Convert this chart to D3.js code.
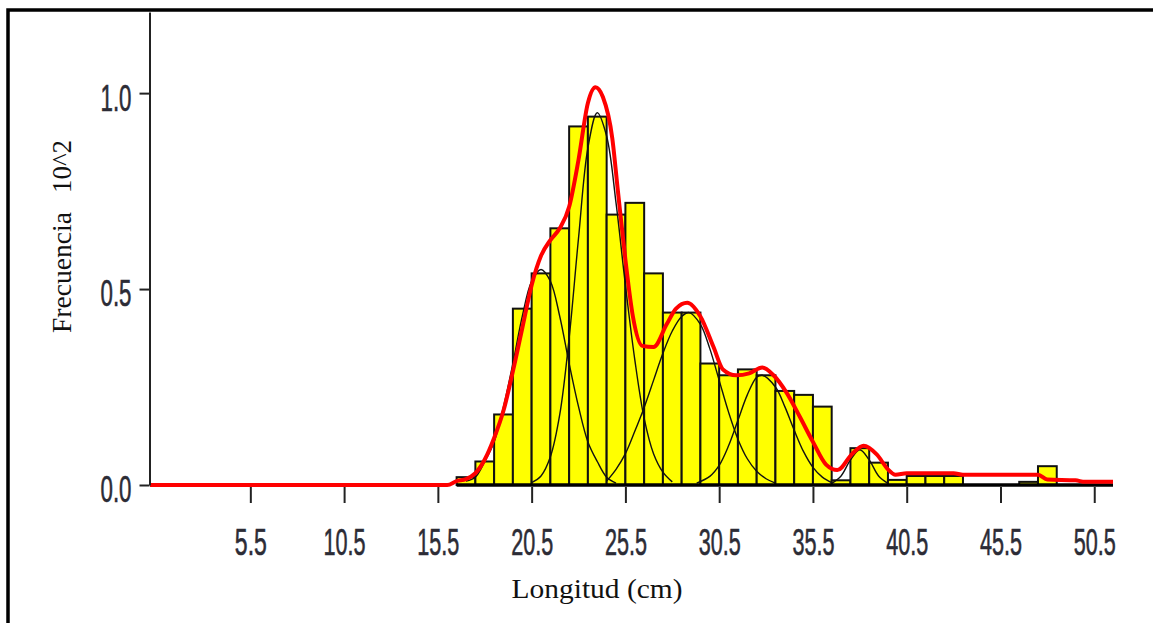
<!DOCTYPE html>
<html>
<head>
<meta charset="utf-8">
<script src="https://cdn.jsdelivr.net/npm/d3@7/dist/d3.min.js"></script>
<style>
  body { margin: 0; background: #fff; }
  svg { display: block; }
</style>
</head>
<body>
<div id="chart"></div>
<script>
// bin centres (cm) and observed frequency (x 10^2)
var binMids = [17, 18, 19, 20, 21, 22, 23, 24, 25, 26, 27, 28, 29, 30, 31, 32, 33, 34, 35, 36,
               37, 38, 39, 40, 41, 42, 43, 44, 45, 46, 47, 48];
var binFreq = [0.02, 0.06, 0.18, 0.45, 0.54, 0.655, 0.915, 0.94, 0.69, 0.72, 0.54, 0.44, 0.44, 0.31, 0.28, 0.295,
               0.28, 0.24, 0.23, 0.20, 0.012, 0.094, 0.057, 0.013, 0.023, 0.023, 0.023, 0, 0, 0, 0.008, 0.048];

// fitted total (red)
var fitTotal = [[0.15, 0], [16, 0], [16.5, 0.01], [17, 0.015], [17.5, 0.03], [18, 0.065], [18.5, 0.12], [19, 0.19],
  [19.5, 0.29], [20, 0.40], [20.5, 0.51], [21, 0.585], [21.5, 0.625], [22, 0.655], [22.5, 0.71], [23, 0.83],
  [23.5, 0.975], [23.9, 1.015], [24.3, 0.99], [24.8, 0.885], [25.1, 0.75], [25.5, 0.575], [25.9, 0.43],
  [26.4, 0.355], [27, 0.352], [27.7, 0.41], [28.2, 0.45], [28.8, 0.465], [29.5, 0.43], [30.2, 0.352],
  [30.7, 0.295], [31.4, 0.28], [32.1, 0.285], [32.8, 0.30], [33.4, 0.28], [34.1, 0.235], [34.8, 0.174],
  [35.5, 0.11], [36.2, 0.052], [36.8, 0.038], [37.6, 0.08], [38.2, 0.10], [38.9, 0.078], [39.5, 0.04],
  [39.9, 0.026], [40.5, 0.03], [43, 0.03], [43.5, 0.026], [47.5, 0.026], [48, 0.014], [49.5, 0.012],
  [50, 0.008], [51.5, 0.008]];

// age-group components (thin black)
var compA = [[17, 0.01], [17.5, 0.02], [18, 0.06], [18.5, 0.11], [19, 0.2], [19.5, 0.31], [20, 0.43], [20.5, 0.52],
  [21, 0.55], [21.5, 0.52], [22, 0.43], [22.5, 0.31], [23, 0.2], [23.5, 0.11], [24, 0.06], [24.5, 0.02], [25, 0.005]];
var compB = [[20.5, 0.006], [21, 0.023], [21.5, 0.072], [22, 0.18], [22.5, 0.375], [23, 0.63], [23.5, 0.86], [24, 0.95],
  [24.5, 0.89], [25, 0.72], [25.5, 0.51], [26, 0.32], [26.5, 0.17], [27, 0.08], [27.5, 0.033], [28, 0.008]];
var compC = [[24.5, 0.01], [25, 0.04], [25.5, 0.08], [26, 0.137], [26.5, 0.198], [27, 0.267], [27.5, 0.336], [28, 0.393],
  [28.5, 0.43], [28.9, 0.44], [29.5, 0.41], [30, 0.348], [30.5, 0.267], [31, 0.186], [31.5, 0.117], [32, 0.067],
  [32.5, 0.035], [33, 0.016], [33.5, 0.005]];
var compD = [[29.3, 0.005], [30, 0.022], [30.5, 0.05], [31, 0.1], [31.5, 0.165], [32, 0.23], [32.5, 0.275], [32.8, 0.28],
  [33.5, 0.25], [34, 0.2], [34.5, 0.14], [35, 0.085], [35.5, 0.045], [36, 0.02], [36.5, 0.006]];
var compE = [[36.5, 0.004], [37, 0.023], [37.5, 0.064], [38, 0.09], [38.5, 0.064], [39, 0.023], [39.5, 0.004]];

var xTicks = [5.5, 10.5, 15.5, 20.5, 25.5, 30.5, 35.5, 40.5, 45.5, 50.5];
var yTicks = [0, 0.5, 1.0];

var W = 1153, H = 623;
var svg = d3.select('#chart').append('svg').attr('width', W).attr('height', H);

var x = d3.scaleLinear().domain([0.15, 51.5]).range([150, 1113]);
var y = d3.scaleLinear().domain([0, 1.207]).range([485, 12]);

// frame
svg.append('rect').attr('x', 8).attr('y', 10).attr('width', 1200).attr('height', 700)
  .attr('fill', 'none').attr('stroke', '#000').attr('stroke-width', 3.5);

// bars
svg.append('g').selectAll('rect').data(binMids.map(function (m, i) { return { m: m, v: binFreq[i] }; })
  .filter(function (d) { return d.v > 0; }))
  .enter().append('rect')
  .attr('x', function (d) { return x(d.m - 0.5); })
  .attr('width', function (d) { return x(d.m + 0.5) - x(d.m - 0.5); })
  .attr('y', function (d) { return y(d.v); })
  .attr('height', function (d) { return y(0) - y(d.v); })
  .attr('fill', '#ffff00').attr('stroke', '#111').attr('stroke-width', 2);

// components
var compLine = d3.line().x(function (d) { return x(d[0]); }).y(function (d) { return y(d[1]); })
  .curve(d3.curveCatmullRom);
[compA, compB, compC, compD, compE].forEach(function (c) {
  svg.append('path').attr('d', compLine(c)).attr('fill', 'none')
    .attr('stroke', '#111').attr('stroke-width', 1.4);
});

// black baseline under the bins
svg.append('line').attr('x1', x(16.5)).attr('x2', x(51.5)).attr('y1', y(0)).attr('y2', y(0))
  .attr('stroke', '#000').attr('stroke-width', 3.5);

// fitted total
var fitLine = d3.line().x(function (d) { return x(d[0]); }).y(function (d) { return y(d[1]); })
  .curve(d3.curveMonotoneX);
svg.append('path').attr('d', fitLine(fitTotal)).attr('fill', 'none')
  .attr('stroke', '#ff0000').attr('stroke-width', 4).attr('stroke-linejoin', 'round');

// x axis (ticks only)
var axX = svg.append('g').attr('transform', 'translate(0,487)')
  .call(d3.axisBottom(x).tickValues(xTicks).tickSize(16).tickPadding(26).tickFormat(d3.format('.1f')));
axX.select('.domain').remove();
axX.selectAll('line').attr('stroke', '#222').attr('stroke-width', 2);
axX.selectAll('text').attr('font-family', 'Liberation Sans, Arial, sans-serif').attr('font-size', 36)
  .attr('fill', '#2c2c36').attr('stroke', '#2c2c36').attr('stroke-width', 0.6)
  .attr('textLength', function (d) { return d >= 10 ? 42 : 32; }).attr('lengthAdjust', 'spacingAndGlyphs');

// y axis
var axY = svg.append('g').attr('transform', 'translate(149.5,0)')
  .call(d3.axisLeft(y).tickValues(yTicks).tickSize(10).tickSizeOuter(0).tickPadding(8).tickFormat(d3.format('.1f')));
axY.select('.domain').attr('stroke', '#222').attr('stroke-width', 2);
axY.selectAll('line').attr('stroke', '#222').attr('stroke-width', 2);
axY.selectAll('text').attr('font-family', 'Liberation Sans, Arial, sans-serif').attr('font-size', 36)
  .attr('fill', '#2c2c36').attr('stroke', '#2c2c36').attr('stroke-width', 0.6).attr('dy', '0.47em')
  .attr('textLength', 31).attr('lengthAdjust', 'spacingAndGlyphs');

// titles
svg.append('text').attr('transform', 'translate(597,598)').attr('text-anchor', 'middle')
  .attr('font-family', 'Liberation Serif, Times New Roman, serif').attr('font-size', 28)
  .attr('textLength', 171).attr('lengthAdjust', 'spacingAndGlyphs').attr('fill', '#111')
  .text('Longitud (cm)');
svg.append('text').attr('transform', 'translate(71,272.5) rotate(-90)').attr('text-anchor', 'middle')
  .attr('font-family', 'Liberation Serif, Times New Roman, serif').attr('font-size', 28)
  .attr('textLength', 121).attr('lengthAdjust', 'spacingAndGlyphs').attr('fill', '#111')
  .text('Frecuencia');
svg.append('text').attr('transform', 'translate(71,166.5) rotate(-90)').attr('text-anchor', 'middle')
  .attr('font-family', 'Liberation Serif, Times New Roman, serif').attr('font-size', 28)
  .attr('textLength', 53).attr('lengthAdjust', 'spacingAndGlyphs').attr('fill', '#111')
  .text('10^2');
</script>
</body>
</html>
